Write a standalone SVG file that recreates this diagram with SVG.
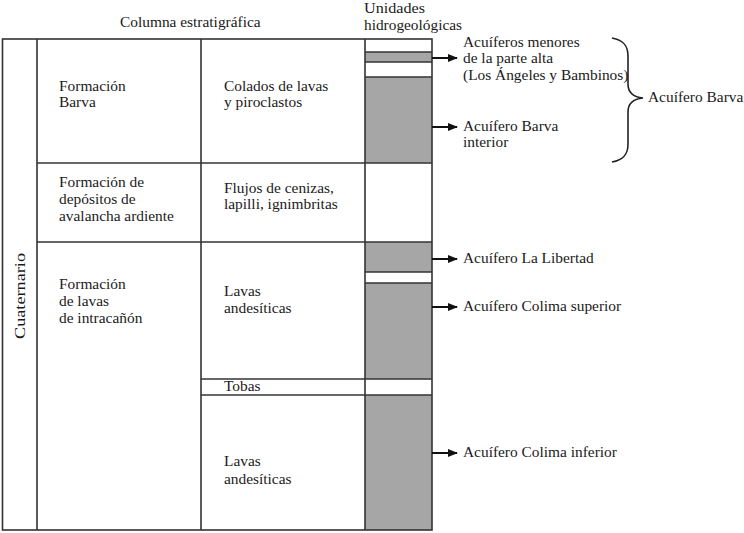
<svg xmlns="http://www.w3.org/2000/svg" width="744" height="533" viewBox="0 0 744 533">
<style>
text{font-family:"Liberation Serif","DejaVu Serif",serif;font-size:15.4px;fill:#1a1a1a}
.hd{font-size:14px}
.ln{stroke:#333;stroke-width:1.6;fill:none}
.g{fill:#a6a6a6}
.ar{stroke:#111;stroke-width:2;fill:none}
</style>
<defs>
<marker id="ah" viewBox="0 0 10 8" refX="9" refY="4" markerWidth="10" markerHeight="8" markerUnits="userSpaceOnUse" orient="auto">
<path d="M0,0 L10,4 L0,8 Z" fill="#111"/>
</marker>
</defs>
<rect width="744" height="533" fill="#fff"/>
<text x="120" y="27">Columna estratigráfica</text>
<text class="hd" x="364" y="13" textLength="61" lengthAdjust="spacingAndGlyphs">Unidades</text>
<text class="hd" x="364" y="30" textLength="98" lengthAdjust="spacingAndGlyphs">hidrogeológicas</text>

<g id="hydro-fill">
<rect class="g" x="365" y="52" width="67" height="10"/>
<rect class="g" x="365" y="77" width="67" height="86"/>
<rect class="g" x="365" y="242" width="67" height="30"/>
<rect class="g" x="365" y="283" width="67" height="96"/>
<rect class="g" x="365" y="395" width="67" height="135"/>
</g>

<g id="grid">
<rect class="ln" x="2.5" y="39" width="429.5" height="491"/>
<line class="ln" x1="37" y1="39" x2="37" y2="530"/>
<line class="ln" x1="201" y1="39" x2="201" y2="530"/>
<line class="ln" x1="365" y1="39" x2="365" y2="530"/>
<line class="ln" x1="37" y1="163" x2="432" y2="163"/>
<line class="ln" x1="37" y1="242" x2="432" y2="242"/>
<line class="ln" x1="201" y1="379" x2="432" y2="379"/>
<line class="ln" x1="201" y1="395" x2="432" y2="395"/>
<line class="ln" x1="365" y1="52" x2="432" y2="52"/>
<line class="ln" x1="365" y1="62" x2="432" y2="62"/>
<line class="ln" x1="365" y1="77" x2="432" y2="77"/>
<line class="ln" x1="365" y1="272" x2="432" y2="272"/>
<line class="ln" x1="365" y1="283" x2="432" y2="283"/>
</g>

<g id="cuaternario">
<text transform="translate(25,296) rotate(-90)" text-anchor="middle" textLength="86" lengthAdjust="spacingAndGlyphs">Cuaternario</text>
</g>
<g id="formacion-barva">
<text x="59" y="91">Formación</text>
<text x="59" y="107">Barva</text>
</g>
<g id="colados">
<text x="224" y="91">Colados de lavas</text>
<text x="224" y="107">y piroclastos</text>
</g>
<g id="formacion-avalancha">
<text x="59" y="187">Formación de</text>
<text x="59" y="204">depósitos de</text>
<text x="59" y="221">avalancha ardiente</text>
</g>
<g id="flujos">
<text x="224" y="193">Flujos de cenizas,</text>
<text x="224" y="209">lapilli, ignimbritas</text>
</g>
<g id="formacion-intracanon">
<text x="59" y="289">Formación</text>
<text x="59" y="306">de lavas</text>
<text x="59" y="323">de intracañón</text>
</g>
<g id="lavas-sup">
<text x="224" y="296">Lavas</text>
<text x="224" y="313">andesíticas</text>
</g>
<g id="tobas">
<text x="224" y="391">Tobas</text>
</g>
<g id="lavas-inf">
<text x="224" y="466">Lavas</text>
<text x="224" y="484">andesíticas</text>
</g>

<g id="acuiferos-menores">
<text x="463" y="47">Acuíferos menores</text>
<text x="463" y="63">de la parte alta</text>
<text x="463" y="80">(Los Ángeles y Bambinos)</text>
</g>
<g id="barva-interior">
<text x="463" y="131">Acuífero Barva</text>
<text x="463" y="147">interior</text>
</g>
<g id="acuifero-barva">
<text x="648" y="102">Acuífero Barva</text>
</g>
<g id="la-libertad"><text x="463" y="263">Acuífero La Libertad</text></g>
<g id="colima-sup"><text x="463" y="311">Acuífero Colima superior</text></g>
<g id="colima-inf"><text x="463" y="457">Acuífero Colima inferior</text></g>

<g id="connectors">
<line class="ar" x1="432" y1="58" x2="457" y2="58" marker-end="url(#ah)"/>
<line class="ar" x1="432" y1="127" x2="457" y2="127" marker-end="url(#ah)"/>
<line class="ar" x1="432" y1="259" x2="457" y2="259" marker-end="url(#ah)"/>
<line class="ar" x1="432" y1="307" x2="457" y2="307" marker-end="url(#ah)"/>
<line class="ar" x1="432" y1="453" x2="457" y2="453" marker-end="url(#ah)"/>
<path d="M612,38 C624,40 628,46 628,56 L628,84 C628,92 632,97 643,98 C632,99 628,104 628,112 L628,144 C628,154 624,160 612,162" stroke="#222" stroke-width="1.6" fill="none"/>
</g>
</svg>
